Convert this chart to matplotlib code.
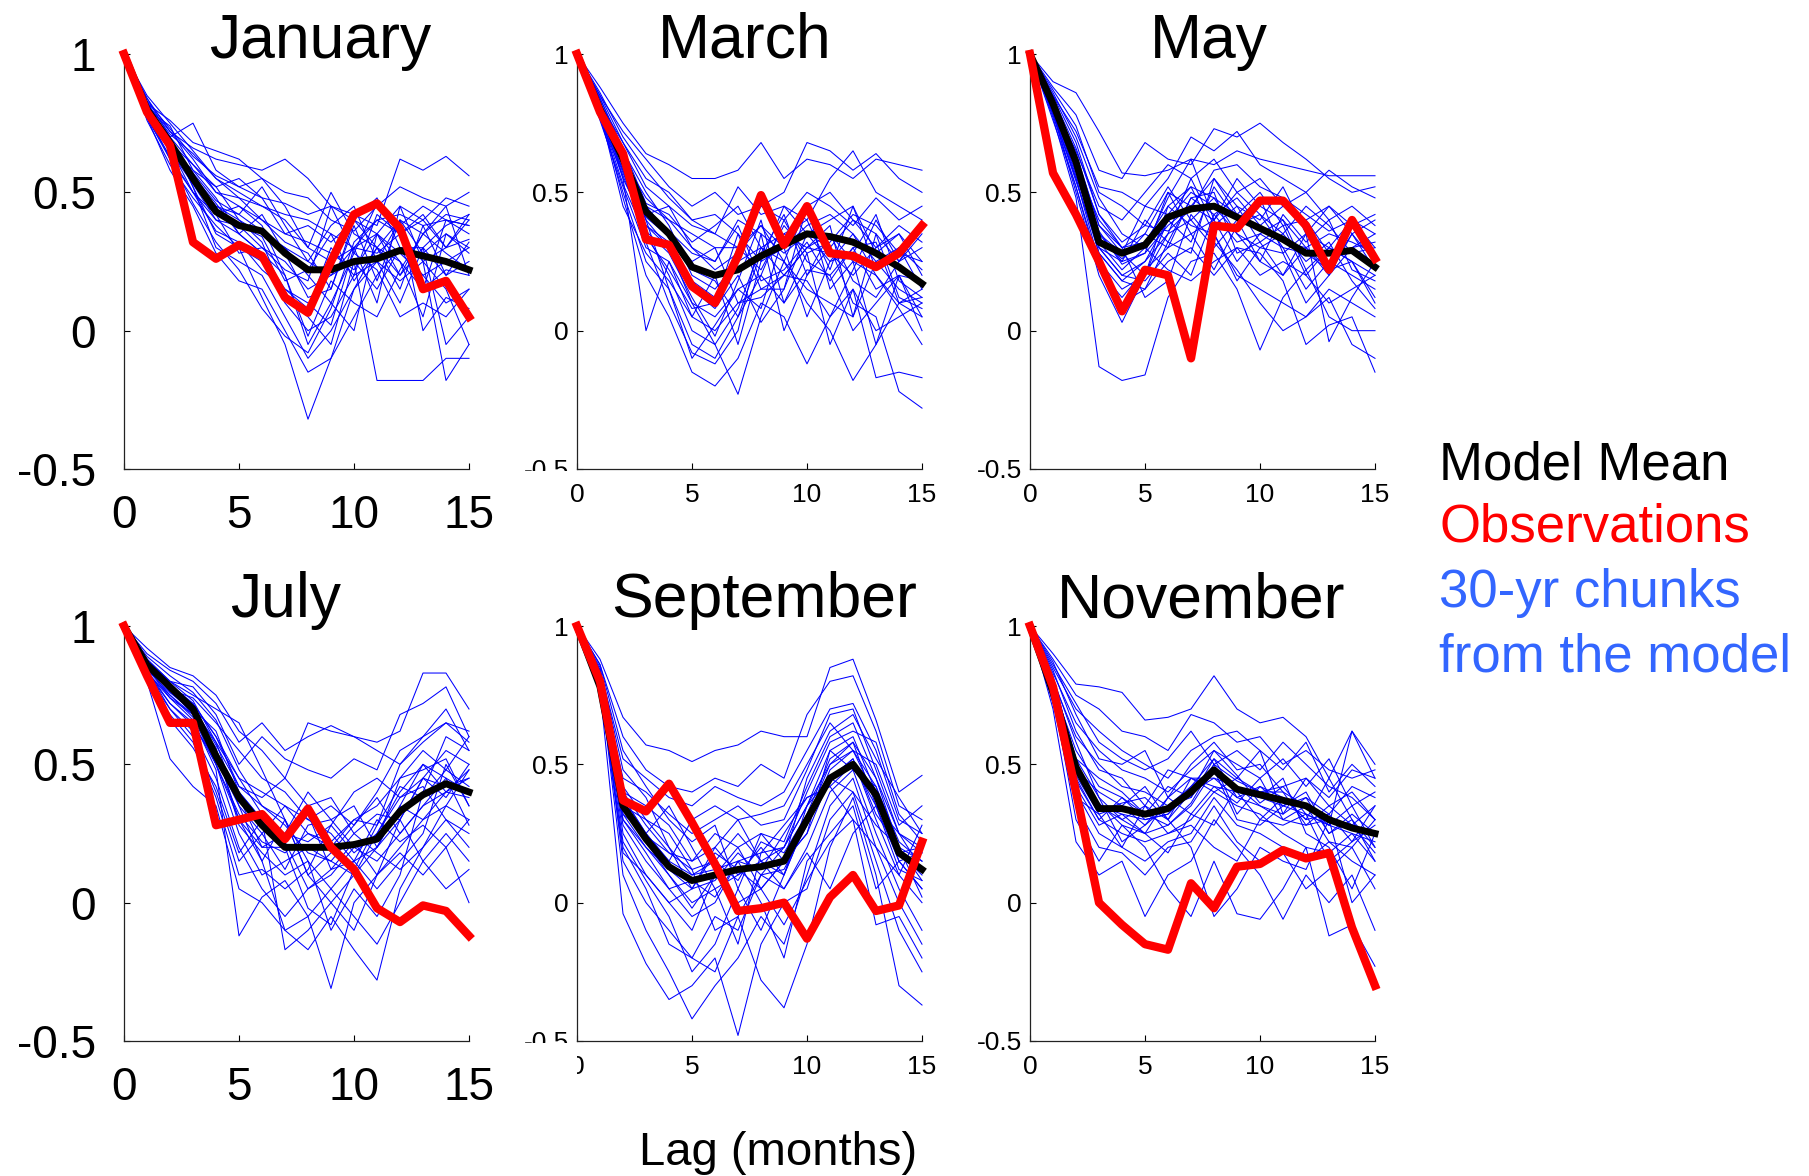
import numpy as np
import matplotlib.pyplot as plt
from matplotlib.transforms import Bbox, TransformedBbox

plt.rcParams['font.family'] = ['Liberation Sans', 'DejaVu Sans']

lags = np.arange(16)

# Observed autocorrelation by start month
obs_jan = [1, .79, .67, .32, .26, .31, .27, .12, .065, .25, .42, .46, .37, .15, .18, .05]
obs_mar = [1, .79, .64, .33, .31, .16, .10, .27, .49, .31, .45, .28, .27, .23, .28, .38]
obs_may = [1, .57, .42, .25, .07, .22, .20, -.10, .38, .37, .47, .47, .38, .22, .40, .26]
obs_jul = [1, .82, .65, .65, .28, .30, .32, .23, .34, .20, .12, -.02, -.07, -.01, -.03, -.12]
obs_sep = [1, .80, .37, .33, .43, .29, .14, -.03, -.02, .00, -.13, .02, .10, -.03, -.01, .22]
obs_nov = [1, .78, .40, .00, -.08, -.15, -.17, .07, -.02, .13, .14, .19, .16, .18, -.09, -.30]

# Mean over the model chunks
mean_jan = [1, .80, .68, .55, .43, .38, .36, .28, .22, .22, .25, .26, .29, .27, .25, .22]
mean_mar = [1, .80, .62, .43, .35, .23, .20, .22, .27, .31, .35, .34, .32, .28, .23, .17]
mean_may = [1, .82, .61, .32, .28, .31, .41, .44, .45, .41, .37, .33, .28, .28, .29, .23]
mean_jul = [1, .86, .78, .70, .53, .38, .28, .20, .20, .20, .21, .23, .33, .39, .43, .40]
mean_sep = [1, .78, .35, .23, .13, .08, .10, .12, .13, .15, .30, .45, .50, .39, .18, .12]
mean_nov = [1, .76, .49, .34, .34, .32, .34, .40, .48, .41, .39, .37, .35, .30, .27, .25]

# 30-yr chunks from the model
runs_jan = [
    [1, .84, .72, .66, .62, .60, .58, .62, .55, .45, .42, .38, .62, .58, .63, .56],
    [1, .82, .76, .68, .65, .62, .55, .50, .48, .40, .36, .45, .52, .48, .45, .50],
    [1, .80, .70, .75, .58, .52, .55, .45, .30, .50, .35, .30, .40, .35, .42, .40],
    [1, .78, .68, .60, .50, .48, .45, .42, .40, .35, .30, .40, .42, .38, .40, .38],
    [1, .83, .66, .55, .45, .42, .52, .38, .25, .20, .30, .28, .35, .42, .30, .42],
    [1, .80, .74, .58, .52, .40, .35, .30, .20, .10, .28, .46, .38, .45, .40, .35],
    [1, .79, .62, .50, .40, .38, .30, .25, .15, .20, .25, .15, .30, .20, .25, .30],
    [1, .76, .60, .48, .38, .30, .25, .10, .00, .05, .20, .25, .10, .30, .20, .25],
    [1, .81, .70, .52, .30, .25, .20, .05, -.10, .00, .15, .30, .25, .05, .35, .28],
    [1, .77, .58, .45, .28, .18, .15, .00, -.15, -.10, .05, .20, .30, .15, .22, .20],
    [1, .80, .69, .52, .35, .30, .12, -.05, -.32, -.10, .15, .25, .18, .25, .30, .33],
    [1, .78, .65, .55, .45, .40, .32, .12, .05, -.05, .25, -.18, -.18, -.18, -.10, -.10],
    [1, .82, .72, .62, .50, .45, .38, .20, -.05, .10, .00, .35, .20, .30, -.05, .05],
    [1, .79, .66, .58, .48, .35, .28, .15, .10, .02, .30, .10, .45, .25, .15, -.05],
    [1, .85, .75, .65, .55, .50, .45, .40, .30, .25, .30, .35, .28, .20, .10, .15],
    [1, .80, .68, .57, .42, .45, .40, .35, .38, .32, .40, .30, .20, .35, .28, .22],
    [1, .78, .66, .50, .42, .28, .30, .22, .18, .45, .28, .22, .05, .10, .05, .15],
    [1, .81, .64, .56, .46, .35, .42, .28, .12, .15, .38, .18, .40, .00, .12, .08],
    [1, .83, .73, .63, .56, .52, .48, .46, .42, .45, .40, .48, .30, .30, .38, .42],
    [1, .77, .62, .46, .32, .22, .08, -.02, -.08, .08, .32, .40, .35, .25, -.18, -.05],
    [1, .84, .70, .60, .52, .55, .48, .35, .32, .28, .22, .35, .45, .40, .48, .45],
    [1, .79, .67, .54, .44, .38, .34, .18, .22, .35, .18, .30, .15, .38, .20, .32],
    [1, .82, .71, .64, .55, .48, .40, .32, .28, .15, .40, .35, .25, .15, .40, .38],
    [1, .77, .63, .50, .36, .32, .22, .15, .08, .30, .20, .42, .35, .40, .30, .40],
    [1, .81, .69, .57, .47, .42, .36, .30, .25, .38, .45, .25, .40, .28, .35, .30],
    [1, .80, .65, .53, .40, .35, .28, .20, -.02, .18, .10, .05, .22, .35, .45, .20],
]
runs_mar = [
    [1, .88, .75, .64, .60, .55, .55, .58, .68, .55, .62, .60, .55, .62, .60, .58],
    [1, .85, .72, .62, .52, .45, .50, .42, .45, .50, .68, .65, .58, .64, .55, .50],
    [1, .82, .68, .55, .50, .40, .35, .52, .42, .45, .40, .55, .65, .50, .45, .40],
    [1, .80, .62, .48, .40, .35, .30, .30, .45, .40, .50, .45, .38, .48, .40, .45],
    [1, .78, .58, .42, .45, .30, .25, .40, .35, .28, .35, .30, .40, .35, .25, .30],
    [1, .84, .65, .50, .38, .20, .15, .25, .30, .35, .30, .28, .20, .30, .35, .25],
    [1, .79, .55, .38, .30, .10, .05, .15, .20, .40, .25, .20, .30, .15, .20, .18],
    [1, .76, .52, .30, .25, .05, .00, .10, .15, .20, .30, .35, .25, .20, .10, .12],
    [1, .81, .60, .35, .20, .00, -.05, .08, .30, .25, .15, .10, .05, .25, .15, .10],
    [1, .77, .50, .25, .15, -.05, -.10, .05, .20, .10, .22, .20, .00, .10, .20, .05],
    [1, .80, .48, .20, .05, -.15, -.20, -.10, .10, .05, -.12, .05, .15, .00, .05, .10],
    [1, .83, .55, .00, .25, .10, -.05, -.23, .05, .25, .10, .00, -.18, -.05, .10, .15],
    [1, .78, .58, .32, .10, -.08, -.12, .00, .35, .00, .20, .30, .10, .05, -.22, -.28],
    [1, .82, .62, .40, .30, .15, .08, .20, .03, .15, .45, .15, .25, -.05, .20, .00],
    [1, .79, .45, .28, .18, .05, .20, -.05, .25, .30, .05, .25, .35, .20, .08, -.05],
    [1, .86, .70, .58, .48, .40, .42, .35, .25, .45, .35, .40, .45, .28, .35, .20],
    [1, .80, .64, .45, .35, .25, .30, .10, .12, .20, .18, .05, .22, .40, .25, .35],
    [1, .77, .56, .36, .28, .12, -.02, .18, .40, .10, .28, -.05, .15, -.17, -.15, -.17],
    [1, .84, .66, .46, .42, .32, .38, .45, .30, .20, .30, .38, .05, .35, .12, .08],
    [1, .81, .60, .40, .15, -.10, .02, .15, .08, .35, .40, .22, .45, .22, .30, .22],
    [1, .83, .63, .45, .40, .30, .22, .28, .38, .30, .38, .42, .35, .25, .30, .15],
    [1, .79, .57, .38, .32, .18, .12, .30, .22, .38, .28, .32, .42, .38, .28, .25],
    [1, .85, .68, .52, .45, .38, .35, .30, .38, .25, .45, .50, .40, .30, .38, .32],
    [1, .78, .53, .34, .22, .08, .10, .35, .15, .15, .35, .25, .28, .42, .18, .12],
    [1, .81, .59, .41, .34, .22, .18, .05, .28, .42, .20, .35, .18, .12, .25, .38],
    [1, .80, .61, .44, .36, .28, .25, .38, .18, .22, .32, .18, .30, .32, .10, .05],
]
runs_may = [
    [1, .90, .86, .72, .57, .56, .58, .62, .60, .65, .62, .60, .58, .56, .56, .56],
    [1, .88, .78, .58, .55, .68, .62, .60, .73, .70, .75, .68, .62, .55, .50, .52],
    [1, .85, .72, .52, .50, .45, .55, .70, .65, .72, .60, .55, .50, .58, .52, .48],
    [1, .82, .65, .45, .40, .50, .60, .55, .62, .50, .55, .45, .40, .45, .35, .40],
    [1, .80, .60, .40, .30, .35, .50, .45, .55, .45, .40, .52, .35, .30, .40, .35],
    [1, .84, .62, .30, .20, .25, .40, .50, .45, .35, .30, .35, .45, .38, .28, .30],
    [1, .78, .55, .25, .15, .20, .35, .40, .30, .40, .25, .20, .30, .20, .35, .25],
    [1, .76, .52, .22, .12, .22, .30, .35, .40, .25, .35, .30, .15, .25, .20, .15],
    [1, .81, .58, .28, .18, .15, .25, .30, .20, .30, .20, .25, .20, .10, .15, .20],
    [1, .79, .50, .20, .03, .20, .45, .38, .35, .20, .15, .10, .05, .15, .10, .05],
    [1, .77, .48, -.13, -.18, -.16, .12, .25, .28, .15, -.07, .12, .22, .05, .00, .00],
    [1, .83, .60, .35, .25, .40, .32, .28, .55, .42, .50, .38, .20, .30, .25, .10],
    [1, .80, .56, .32, .22, .30, .22, .18, .25, .30, .28, .18, -.05, .02, .05, -.15],
    [1, .86, .70, .48, .35, .30, .48, .62, .40, .55, .45, .40, .30, .22, .25, .12],
    [1, .82, .63, .38, .28, .45, .42, .52, .35, .18, .30, .28, .10, .20, .30, .35],
    [1, .79, .54, .30, .20, .18, .28, .20, .42, .48, .38, .45, .50, .40, .45, .38],
    [1, .84, .66, .42, .30, .12, .18, .42, .32, .22, .10, .00, .05, .12, -.05, -.10],
    [1, .78, .52, .24, .10, .15, .32, .48, .50, .28, .32, .20, .35, -.04, .12, .25],
    [1, .81, .62, .36, .24, .28, .50, .35, .22, .38, .42, .35, .25, .32, .18, .08],
    [1, .87, .74, .50, .45, .38, .36, .44, .58, .60, .52, .48, .42, .36, .40, .30],
    [1, .83, .64, .38, .30, .32, .45, .52, .48, .42, .38, .32, .30, .35, .32, .28],
    [1, .80, .57, .30, .25, .28, .38, .45, .40, .50, .42, .30, .28, .22, .35, .22],
    [1, .85, .68, .42, .32, .38, .52, .40, .48, .35, .25, .42, .32, .40, .22, .18],
    [1, .79, .55, .28, .18, .25, .35, .55, .38, .45, .32, .38, .40, .28, .30, .32],
    [1, .82, .60, .35, .28, .20, .40, .32, .52, .40, .48, .28, .35, .45, .38, .42],
    [1, .81, .59, .33, .26, .35, .30, .48, .42, .32, .35, .40, .22, .30, .25, .20],
]
runs_jul = [
    [1, .90, .84, .80, .72, .58, .65, .55, .60, .64, .60, .58, .62, .83, .83, .70],
    [1, .92, .85, .82, .75, .62, .55, .45, .65, .62, .60, .55, .50, .60, .65, .62],
    [1, .88, .80, .78, .68, .50, .60, .52, .48, .45, .52, .48, .68, .72, .78, .60],
    [1, .86, .78, .72, .60, .45, .40, .35, .30, .35, .28, .40, .55, .60, .70, .55],
    [1, .85, .75, .68, .55, .30, .20, .25, .40, .30, .35, .20, .30, .45, .55, .50],
    [1, .84, .72, .65, .50, .25, .10, .15, .20, .15, .10, .25, .40, .50, .45, .40],
    [1, .82, .70, .62, .45, .20, .05, -.05, .05, .10, .20, .15, .25, .35, .40, .45],
    [1, .80, .52, .42, .35, .05, .00, -.10, -.05, -.31, .00, .10, .20, .30, .35, .30],
    [1, .87, .76, .70, .58, .35, .15, -.10, -.17, -.05, -.17, -.28, .05, .20, .30, .25],
    [1, .83, .74, .66, .48, -.12, .02, .08, -.05, .05, .15, .05, .15, .25, .50, .35],
    [1, .85, .78, .70, .62, .40, .30, -.17, -.10, .00, -.10, .10, .30, .15, .25, .15],
    [1, .89, .82, .76, .66, .48, .35, .30, .15, -.10, .05, -.05, .10, .40, .60, .55],
    [1, .84, .70, .60, .40, .15, .25, .35, .25, .20, .30, .35, .45, .55, .48, .60],
    [1, .86, .77, .74, .65, .55, .45, .40, .30, .25, .15, .30, .22, .28, .20, .00],
    [1, .81, .68, .58, .38, .10, .12, .05, .12, .28, .40, .45, .38, .42, .30, .20],
    [1, .87, .80, .75, .70, .65, .48, .30, .10, .00, .10, .20, .35, .30, .40, .38],
    [1, .83, .72, .64, .52, .38, .20, .20, -.02, -.08, .12, .28, .50, .58, .65, .58],
    [1, .85, .74, .68, .56, .28, .18, .10, .15, .05, -.05, -.15, .00, .15, .05, .12],
    [1, .88, .79, .72, .60, .42, .38, .45, .35, .38, .25, .18, .12, .20, .35, .48],
    [1, .82, .66, .56, .42, .18, .30, .22, .05, .12, .22, .10, .18, .10, .20, .30],
    [1, .86, .78, .70, .55, .40, .30, .25, .22, .28, .18, .25, .38, .45, .42, .45],
    [1, .84, .76, .69, .50, .32, .22, .18, .25, .22, .30, .28, .42, .38, .48, .42],
    [1, .87, .79, .71, .57, .42, .35, .28, .18, .15, .25, .32, .30, .45, .38, .50],
    [1, .85, .77, .68, .52, .35, .25, .12, .28, .30, .20, .22, .45, .48, .52, .35],
    [1, .83, .75, .67, .50, .30, .15, .30, .10, .18, .28, .38, .25, .35, .45, .28],
    [1, .88, .80, .73, .58, .45, .32, .22, .32, .12, .15, .20, .35, .50, .40, .48],
]
runs_sep = [
    [1, .88, .67, .57, .55, .51, .55, .57, .62, .60, .60, .85, .88, .66, .40, .46],
    [1, .86, .60, .48, .42, .40, .45, .42, .50, .45, .68, .80, .82, .62, .35, .30],
    [1, .84, .52, .45, .38, .35, .42, .38, .35, .40, .55, .70, .72, .55, .30, .25],
    [1, .82, .45, .40, .32, .25, .30, .35, .28, .30, .48, .68, .70, .48, .25, .20],
    [1, .80, .40, .35, .28, .15, .25, .20, .25, .22, .42, .60, .65, .45, .20, .15],
    [1, .83, .35, .30, .20, .10, .15, .25, .15, .20, .35, .55, .60, .40, .18, .10],
    [1, .79, .30, .20, .10, .00, .05, .10, .20, .10, .30, .50, .58, .35, .15, .05],
    [1, .81, .25, .10, .00, -.10, .10, .00, .05, .15, .25, .45, .52, .30, .10, .00],
    [1, .78, .20, .05, -.15, -.20, -.05, -.10, .10, .05, .20, .40, .48, .25, .05, -.10],
    [1, .80, .10, -.10, -.25, -.42, -.30, -.20, -.05, -.15, .10, .35, .45, .20, .00, -.15],
    [1, .77, -.04, -.22, -.35, -.30, -.20, -.48, -.15, .00, .05, .30, .40, .15, -.10, -.25],
    [1, .82, .15, .00, -.10, -.20, -.25, -.05, -.28, -.38, -.15, .20, .38, .10, -.30, -.37],
    [1, .79, .28, .15, .05, -.05, .00, .15, .00, -.20, .15, .25, .35, .05, .15, .05],
    [1, .84, .38, .25, .35, .20, .05, -.15, .18, .28, .38, .42, .30, -.08, -.05, -.20],
    [1, .81, .32, .25, .15, .30, .35, .30, .15, .05, .18, .05, .25, .35, .25, .18],
    [1, .85, .48, .38, .20, .05, .20, .30, .32, .35, .50, .65, .55, .50, .28, .35],
    [1, .80, .22, .08, -.05, -.25, -.15, .05, -.10, .10, .35, .45, .40, .28, .20, .08],
    [1, .83, .42, .30, .25, .12, -.10, -.05, .10, .20, .40, .58, .62, .58, .32, .22],
    [1, .78, .18, .10, .00, .05, .18, .12, .05, -.08, .08, .22, .30, .20, .10, .28],
    [1, .86, .55, .42, .30, .22, .28, .05, .25, .15, .45, .62, .68, .52, .38, .25],
    [1, .82, .38, .25, .15, .10, .12, .15, .18, .20, .35, .50, .55, .42, .22, .15],
    [1, .80, .32, .20, .12, .05, .08, .18, .10, .12, .28, .48, .55, .38, .15, .18],
    [1, .84, .40, .28, .18, .12, .15, .08, .22, .18, .32, .52, .58, .45, .25, .12],
    [1, .79, .30, .18, .05, .08, .02, .15, .12, .25, .38, .42, .50, .35, .12, .08],
    [1, .81, .35, .22, .10, -.02, .10, .20, .05, .15, .25, .55, .48, .42, .18, .20],
    [1, .83, .36, .24, .18, .15, .20, .10, .15, .10, .30, .45, .52, .32, .20, .02],
]
runs_nov = [
    [1, .90, .79, .78, .76, .66, .67, .70, .82, .70, .65, .67, .60, .45, .62, .50],
    [1, .88, .75, .70, .62, .60, .55, .68, .65, .58, .60, .50, .55, .48, .45, .48],
    [1, .85, .70, .62, .55, .50, .45, .55, .60, .62, .55, .48, .58, .40, .50, .42],
    [1, .83, .65, .55, .48, .45, .40, .48, .55, .50, .45, .52, .42, .52, .35, .40],
    [1, .80, .60, .50, .42, .40, .35, .42, .52, .45, .40, .42, .45, .35, .40, .30],
    [1, .78, .55, .42, .38, .30, .32, .40, .45, .38, .35, .30, .28, .30, .28, .35],
    [1, .82, .50, .35, .30, .25, .28, .35, .48, .30, .28, .35, .40, .25, .30, .20],
    [1, .76, .45, .30, .25, .22, .25, .30, .40, .35, .32, .25, .20, .18, .25, .15],
    [1, .74, .40, .25, .20, .15, .22, .25, .38, .28, .25, .20, .15, .22, .15, .10],
    [1, .72, .35, .20, .18, .10, .20, .22, .35, .22, .15, .18, .05, .12, .20, .05],
    [1, .70, .22, .10, .15, -.05, .10, .15, .30, .20, .10, -.06, .10, .00, .10, -.10],
    [1, .75, .30, .15, .28, .20, .05, -.05, .15, -.04, -.06, .05, .20, -.12, -.08, -.23],
    [1, .79, .48, .40, .35, .42, .30, .20, -.05, .05, .20, .15, .12, .30, .00, .10],
    [1, .84, .62, .48, .45, .35, .48, .45, .42, .40, .30, .38, .30, .45, .30, .15],
    [1, .81, .58, .38, .22, .28, .38, .50, .58, .48, .50, .40, .35, .28, .62, .45],
    [1, .77, .42, .28, .32, .25, .18, .32, .28, .42, .38, .45, .25, .20, .05, .25],
    [1, .86, .72, .58, .52, .48, .52, .62, .50, .55, .48, .58, .50, .42, .38, .30],
    [1, .73, .38, .32, .20, .35, .25, .28, .20, .15, .30, .28, .32, .15, .22, .35],
    [1, .80, .52, .45, .40, .32, .42, .38, .50, .32, .42, .35, .38, .32, .42, .38],
    [1, .87, .68, .52, .50, .55, .38, .45, .40, .45, .55, .32, .45, .38, .48, .45],
    [1, .78, .50, .35, .32, .30, .32, .42, .48, .40, .38, .35, .32, .28, .25, .22],
    [1, .76, .46, .32, .35, .28, .35, .38, .52, .38, .42, .38, .30, .32, .22, .28],
    [1, .80, .52, .38, .30, .35, .30, .45, .45, .42, .35, .32, .38, .25, .32, .25],
    [1, .74, .44, .30, .38, .32, .28, .36, .50, .44, .40, .40, .28, .35, .28, .18],
    [1, .77, .48, .36, .28, .25, .38, .32, .42, .36, .45, .30, .35, .22, .20, .30],
    [1, .79, .47, .33, .36, .38, .30, .40, .55, .46, .36, .42, .32, .28, .35, .20],
]

months = ['January', 'March', 'May', 'July', 'September', 'November']
all_obs = [obs_jan, obs_mar, obs_may, obs_jul, obs_sep, obs_nov]
all_mean = [mean_jan, mean_mar, mean_may, mean_jul, mean_sep, mean_nov]
all_runs = [runs_jan, runs_mar, runs_may, runs_jul, runs_sep, runs_nov]

yticks = [-0.5, 0, 0.5, 1]
ytick_labels = ['-0.5', '0', '0.5', '1']
xticks = [0, 5, 10, 15]

# page layout in pixels
W, H = 1809, 1176
col_left = [124, 577, 1030]
row_top = [54, 626]
ax_w, ax_h = 345, 415
title_x = [320, 745, 1209, 286, 764, 1201]
title_base = [58, 617]


def clip_labels(fig, labels, x0=0, y0=H):
    """Keep only the part of each label right of x0 and above y0 (pixels from top-left)."""
    box = TransformedBbox(Bbox([[x0 / W, 1 - y0 / H], [1, 1]]), fig.transFigure)
    for lab in labels:
        lab.set_clip_box(box)
        lab.set_clip_on(True)


def plot_panel(ax, runs, mean, obs, big):
    """Draw the model chunks, the model mean and the observations on one axes."""
    for r in runs:
        ax.plot(lags, r, color='#0000ff', lw=0.75, clip_on=False, zorder=2)
    ax.plot(lags, mean, color='black', lw=5, clip_on=False, zorder=3)
    ax.plot(lags, obs, color='#ff0000', lw=6, clip_on=False, zorder=4)

    ax.set_xlim(0, 15)
    ax.set_ylim(-0.5, 1)
    ax.set_xticks(xticks)
    ax.set_yticks(yticks)
    ax.set_yticklabels(ytick_labels)
    for s in ['top', 'right']:
        ax.spines[s].set_visible(False)
    for s in ['left', 'bottom']:
        ax.spines[s].set_linewidth(0.9)
        ax.spines[s].set_color('#222222')
    if big:
        ax.tick_params(axis='y', direction='in', length=4, labelsize=33, pad=20)
        ax.tick_params(axis='x', direction='in', length=4, labelsize=33, pad=18)
    else:
        ax.tick_params(axis='y', direction='in', length=4, labelsize=19, pad=6)
        ax.tick_params(axis='x', direction='in', length=4, labelsize=19, pad=10)


fig = plt.figure(figsize=(W / 100, H / 100), dpi=100)

axes = []
for i in range(6):
    row, col = divmod(i, 3)
    rect = [col_left[col] / W, 1 - (row_top[row] + ax_h) / H, ax_w / W, ax_h / H]
    ax = fig.add_axes(rect)
    plot_panel(ax, all_runs[i], all_mean[i], all_obs[i], big=(col == 0))
    fig.text(title_x[i] / W, 1 - title_base[row] / H, months[i],
             fontsize=45, ha='center', va='baseline')
    axes.append(ax)

# the middle column labels are partly cut off
clip_labels(fig, axes[1].get_yticklabels(), y0=row_top[0] + ax_h + 2)
clip_labels(fig, axes[4].get_yticklabels(), y0=row_top[1] + ax_h + 2)
clip_labels(fig, axes[4].get_xticklabels(), x0=col_left[1])

fig.text(778 / W, 1 - 1165 / H, 'Lag (months)', fontsize=34, ha='center', va='baseline')

legend_lines = [('Model Mean', 'black', 479), ('Observations', '#ff0000', 542),
                ('30-yr chunks', '#3366ff', 607), ('from the model', '#3366ff', 671)]
for txt, c, yb in legend_lines:
    fig.text(1439 / W, 1 - yb / H, txt, fontsize=38, color=c, ha='left', va='baseline')

fig.savefig('out.png', dpi=100)
